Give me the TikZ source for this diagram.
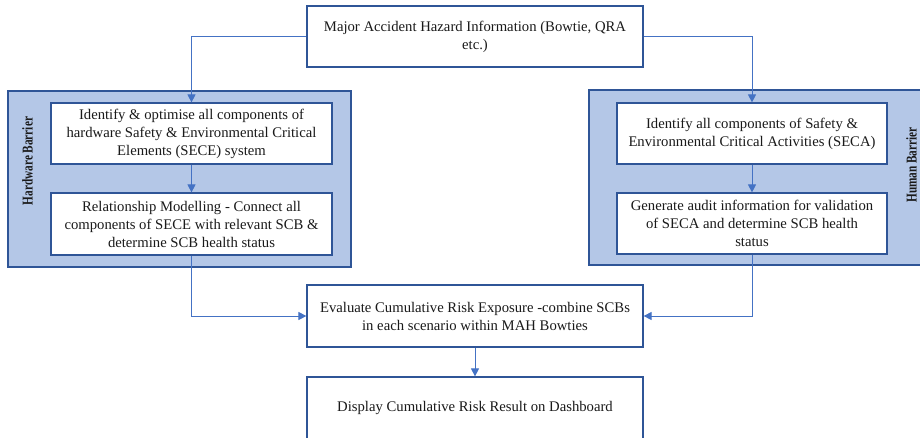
\documentclass[tikz,border=0pt]{standalone}
\usepackage{fontspec}
\usepackage{graphicx}
\setmainfont{Liberation Serif}
\usetikzlibrary{arrows.meta}
\definecolor{panelfill}{HTML}{B4C7E7}
\definecolor{boxline}{HTML}{2F5597}
\definecolor{arrowline}{HTML}{4472C4}
\definecolor{txt}{HTML}{1A1A1A}
\tikzset{
  panel/.style={draw=boxline, fill=panelfill, line width=1.2pt, inner sep=0pt},
  box/.style={draw=boxline, fill=white, line width=1.2pt, inner sep=0pt, align=center,
    text=txt, font=\fontsize{14.7}{18}\selectfont},
  lbl/.style={rotate=90, text=txt, font=\bfseries\fontsize{15}{17}\selectfont, inner sep=0pt},
  conn/.style={draw=arrowline, line width=0.9pt, -{Triangle[length=8pt,width=8pt]}}
}
\begin{document}
\begin{tikzpicture}[x=1pt,y=-1pt]
\useasboundingbox (0,0) rectangle (920,437);
\clip (0,0) rectangle (920,437);
% panels
\node[panel, minimum width=343pt, minimum height=176pt] (hwp) at (179.5,179) {};
\node[panel, minimum width=336pt, minimum height=175pt] (hup) at (757,177.5) {};
\node[lbl] (hwl) at (27.5,161) {\scalebox{0.75}[1]{Hardware Barrier}};
\node[lbl] (hul) at (911.5,165) {\scalebox{0.75}[1]{Human Barrier}};
% boxes
\node[box, minimum width=336pt, minimum height=61pt] (top) at (475,36.5)
  {Major Accident Hazard Information (Bowtie, QRA\\etc.)};
\node[box, minimum width=281pt, minimum height=61pt] (hw1) at (191.5,133.5)
  {Identify \& optimise all components of\\hardware Safety \& Environmental Critical\\Elements (SECE) system};
\node[box, minimum width=281pt, minimum height=62pt] (hw2) at (191.5,224)
  {Relationship Modelling - Connect all\\components of SECE with relevant SCB \&\\determine SCB health status};
\node[box, minimum width=270pt, minimum height=61pt] (hu1) at (752,133.5)
  {Identify all components of Safety \&\\Environmental Critical Activities (SECA)};
\node[box, minimum width=270pt, minimum height=61pt] (hu2) at (752,223.5)
  {Generate audit information for validation\\of SECA and determine SCB health\\status};
\node[box, minimum width=336pt, minimum height=62pt] (eval) at (475,316)
  {Evaluate Cumulative Risk Exposure -combine SCBs\\in each scenario within MAH Bowties};
\node[box, minimum width=336pt, minimum height=62pt] (disp) at (475,408)
  {Display Cumulative Risk Result on Dashboard};
% connectors
\draw[conn] (top.west) -| (hw1.north);
\draw[conn] (top.east) -| (hu1.north);
\draw[conn] (hw1.south) -- (hw2.north);
\draw[conn] (hu1.south) -- (hu2.north);
\draw[conn] (hw2.south) |- (eval.west);
\draw[conn] (hu2.south) |- (eval.east);
\draw[conn] (eval.south) -- (disp.north);
\end{tikzpicture}
\end{document}
